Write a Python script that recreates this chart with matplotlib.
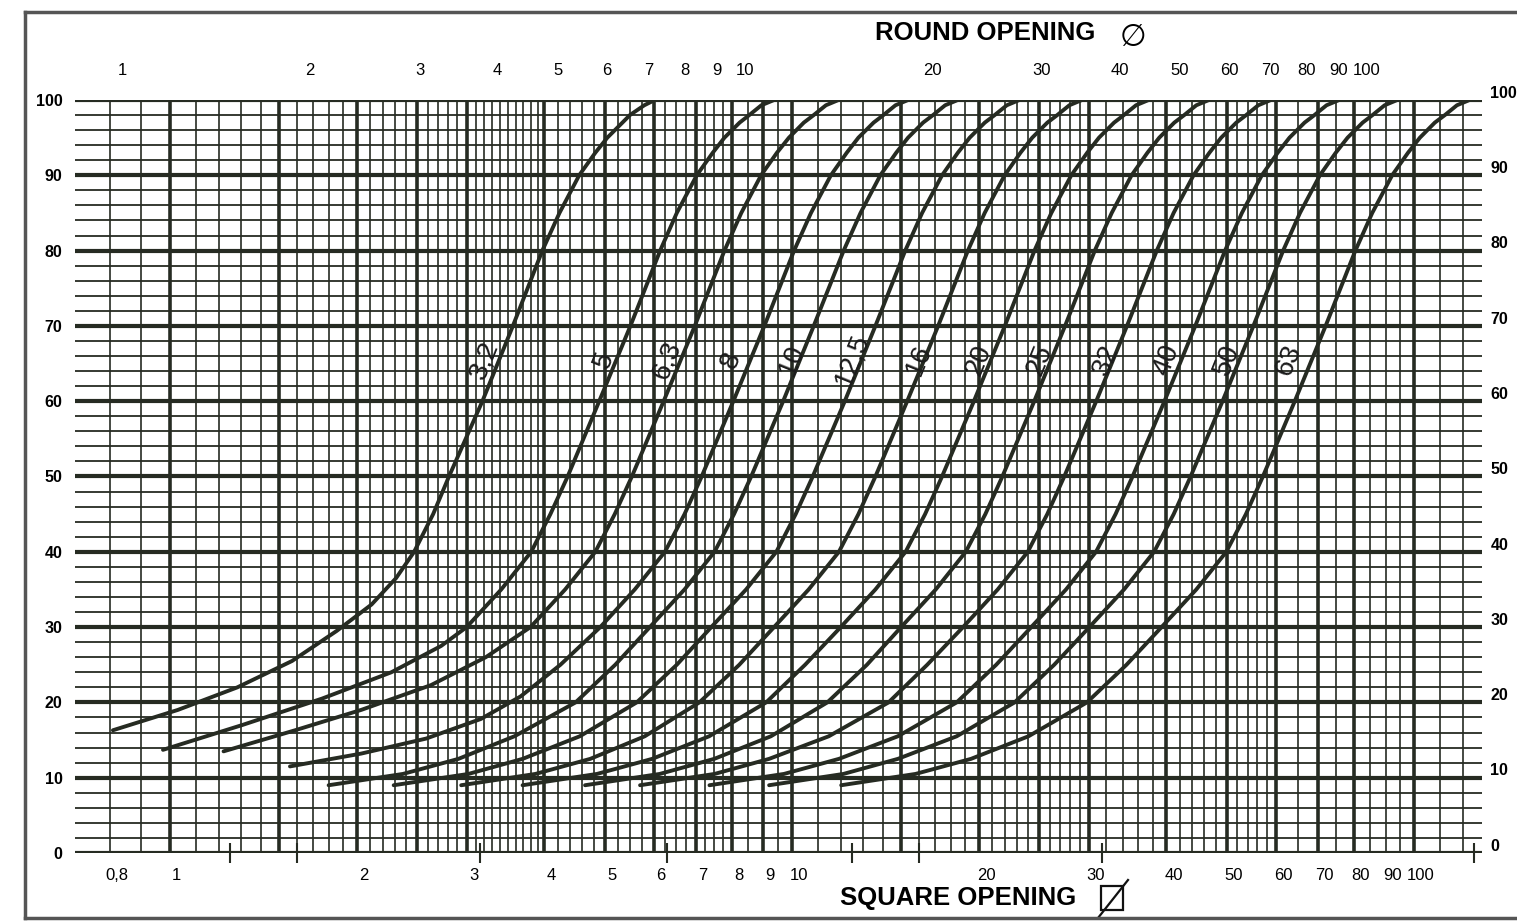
import numpy as np
import matplotlib.pyplot as plt
from matplotlib.lines import Line2D
from matplotlib.patches import Rectangle
from matplotlib.ticker import FixedLocator, NullLocator
from matplotlib.transforms import ScaledTranslation

plt.rcParams['font.family'] = ['Liberation Sans', 'DejaVu Sans']

# grading curves: square opening (mm) vs percent passing
curve_labels = ['3,2', '5', '6,3', '8', '10', '12,5', '16', '20', '25', '32', '40', '50', '63']
label_pos = [3.2, 5, 6.3, 8, 10, 12.5, 16, 20, 25, 32, 40, 50, 63]

sq_32 = [0.81, 1.03, 1.284, 1.572, 1.855, 2.11, 2.31, 2.47, 2.65, 2.81, 3.18, 3.56, 3.97, 4.23,
         4.55, 4.83, 5.05, 5.34, 5.49, 5.79, 6.02]
pp_32 = [16.3, 19, 22, 25.5, 29.5, 33, 36.5, 40, 45, 50, 60, 70, 80, 85,
         90, 93, 95, 97, 98, 99.3, 100]

# upper part of the curves (30 % and up)
pp_top = [30, 35, 40, 45, 50, 60, 70, 80, 85, 90, 93, 95, 97, 98, 99.3, 100]

sq_5 = [0.975, 1.308, 1.756, 2.27, 2.73,
        3.00, 3.41, 3.81, 4.09, 4.36, 4.90, 5.50, 6.14, 6.53, 7.03, 7.46, 7.79, 8.24, 8.54, 8.93, 9.36]
pp_5 = [13.7, 17, 20.5, 24, 27.5] + pp_top

sq_63 = [1.22, 1.59, 2.03, 2.63, 3.22,
         3.80, 4.32, 4.83, 5.19, 5.53, 6.22, 6.98, 7.79, 8.29, 8.92, 9.46, 9.89, 10.45, 10.84, 11.34, 11.88]
pp_63 = [13.5, 16.3, 19, 22.3, 26] + pp_top

sq_8 = [1.56, 2.03, 2.583, 3.162, 3.664, 4.245,
        4.92, 5.59, 6.25, 6.72, 7.16, 8.05, 9.03, 10.08, 10.73, 11.55, 12.25, 12.79, 13.53, 14.03, 14.67, 15.37]
pp_8 = [11.5, 13.2, 15.2, 17.8, 20.8, 25] + pp_top

# the bigger curves all start near 9 %
pp_big = [9, 10.5, 12.5, 15.5, 20, 25] + pp_top
sq_10 = [1.80, 2.37, 2.91, 3.58, 4.49, 5.20,
         5.91, 6.72, 7.51, 8.07, 8.60, 9.68, 10.84, 12.11, 12.89, 13.87, 14.71, 15.37, 16.25, 16.86, 17.63, 18.47]
sq_125 = [2.29, 3.02, 3.69, 4.56, 5.63, 6.53,
          7.42, 8.44, 9.44, 10.14, 10.80, 12.16, 13.62, 15.21, 16.19, 17.43, 18.48, 19.31, 20.42, 21.18, 22.15, 23.20]
sq_16 = [2.94, 3.87, 4.74, 5.80, 7.10, 8.23,
         9.36, 10.64, 11.90, 12.79, 13.62, 15.32, 17.18, 19.18, 20.41, 21.97, 23.30, 24.34, 25.74, 26.70, 27.92, 29.25]
sq_20 = [3.69, 4.86, 5.96, 7.36, 9.09, 10.5,
         11.98, 13.62, 15.23, 16.37, 17.43, 19.61, 21.99, 24.54, 26.12, 28.12, 29.83, 31.16, 32.95, 34.17, 35.73, 37.44]
sq_25 = [4.65, 6.13, 7.5, 9.25, 11.4, 13.2,
         14.98, 17.03, 19.03, 20.46, 21.79, 24.52, 27.48, 30.68, 32.66, 35.15, 37.28, 38.95, 41.18, 42.72, 44.67, 46.8]
sq_32b = [5.70, 7.51, 9.19, 11.46, 14.3, 16.5,
          18.84, 21.42, 23.94, 25.73, 27.40, 30.84, 34.56, 38.59, 41.07, 44.21, 46.89, 48.98, 51.80, 53.73, 56.18, 58.86]
sq_40 = [7.37, 9.71, 11.9, 14.8, 18.4, 21.3,
         24.25, 27.58, 30.82, 33.13, 35.28, 39.70, 44.50, 49.68, 52.88, 56.92, 60.37, 63.07, 66.69, 69.17, 72.33, 75.78]
sq_50 = [9.19, 12.1, 14.8, 18.4, 22.8, 26.4,
         30.07, 34.19, 38.21, 41.08, 43.74, 49.22, 55.18, 61.60, 65.56, 70.57, 74.85, 78.20, 82.68, 85.76, 89.68, 93.96]
sq_63b = [12.0, 15.8, 19.4, 24.0, 29.8, 34.5,
          39.28, 44.67, 49.92, 53.67, 57.15, 64.31, 72.09, 80.48, 85.66, 92.21, 97.80, 102.2, 108.0, 112.1, 117.2, 122.8]

curves = [(sq_32, pp_32), (sq_5, pp_5), (sq_63, pp_63), (sq_8, pp_8), (sq_10, pp_big),
          (sq_125, pp_big), (sq_16, pp_big), (sq_20, pp_big), (sq_25, pp_big),
          (sq_32b, pp_big), (sq_40, pp_big), (sq_50, pp_big), (sq_63b, pp_big)]

# axis ticks
square_ticks = [0.8, 1, 2, 3, 4, 5, 6, 7, 8, 9, 10, 20, 30, 40, 50, 60, 70, 80, 90, 100]
square_labels = ['0,8', '1', '2', '3', '4', '5', '6', '7', '8', '9', '10',
                 '20', '30', '40', '50', '60', '70', '80', '90', '100']
square_marks = [0.8, 1.25, 1.6, 3.15, 6.3, 12.5, 16, 31.5, 50, 90, 125]
round_ticks = [1, 2, 3, 4, 5, 6, 7, 8, 9, 10, 20, 30, 40, 50, 60, 70, 80, 90, 100]
round_ratio = 1.19

# paper grid
grid_thin = (list(np.round(np.arange(0.8, 4.01, 0.1), 2)) + [4.2, 4.4, 4.6, 4.8] +
             list(np.round(np.arange(5.25, 8.01, 0.25), 2)) + [8.5, 9.5] +
             list(range(11, 31)) + list(range(32, 61, 2)) + list(range(65, 101, 5)) + [110, 120])
grid_thick = [1, 1.5, 2, 2.5, 3, 4, 5, 6, 7, 8, 9, 10, 15, 20, 25, 30, 40, 50, 60, 70, 80, 100]

ink = '#262b22'
W, H = 1517, 923
fig = plt.figure(figsize=(W / 100, H / 100), dpi=100)
ax = fig.add_axes([75 / W, 1 - 853 / H, (1482 - 75) / W, (853 - 100) / H])
ax.set_xscale('log')
ax.set_xlim(0.704, 128.6)
ax.set_ylim(0, 100)
for s in ax.spines.values():
    s.set_visible(False)

for yv in range(0, 101, 2):
    ax.axhline(yv, color=ink, lw=3.0 if yv % 10 == 0 else 1.3, zorder=1)
ax.vlines(grid_thin, 0, 100, color=ink, lw=1.2, zorder=1)
ax.vlines(grid_thick, 0, 100, color=ink, lw=2.6, zorder=1)

for (xs, ys) in curves:
    ax.plot(xs, ys, color=ink, lw=2.8, solid_capstyle='round', solid_joinstyle='round', zorder=3)

for lab, xp in zip(curve_labels, label_pos):
    ax.text(xp, 65.5, lab, rotation=68, ha='center', va='center', fontsize=20,
            color='#1c1c1c', zorder=4)

# left / right percent labels
ax.set_yticks(range(0, 101, 10))
ax.tick_params(axis='y', length=0, pad=9, labelsize=11.5)
for lbl in ax.get_yticklabels():
    lbl.set_fontweight('bold')
for yv in range(0, 101, 10):
    ax.text(1.006, yv + 0.9, str(yv), transform=ax.get_yaxis_transform(),
            ha='left', va='center', fontsize=11.5, fontweight='bold')

# bottom: square opening
ax.xaxis.set_major_locator(FixedLocator(square_ticks))
ax.set_xticklabels(square_labels)
ax.xaxis.set_minor_locator(FixedLocator(square_marks))
ax.xaxis.set_minor_formatter(plt.NullFormatter())
ax.tick_params(axis='x', which='major', length=0, pad=11, labelsize=12)
ax.tick_params(axis='x', which='minor', length=14, width=1.5, direction='inout', color=ink)
shift = ScaledTranslation(5 / 72, 0, fig.dpi_scale_trans)
for lbl in ax.get_xticklabels():
    lbl.set_transform(lbl.get_transform() + shift)

# top: round opening
top = ax.secondary_xaxis('top', functions=(lambda s: s * round_ratio, lambda r: r / round_ratio))
top.xaxis.set_major_locator(FixedLocator(round_ticks))
top.xaxis.set_minor_locator(NullLocator())
top.set_xticklabels([str(r) for r in round_ticks])
top.tick_params(axis='x', length=0, pad=16, labelsize=12)
for s in top.spines.values():
    s.set_visible(False)

fig.text(985 / W, 1 - 33 / H, 'ROUND OPENING', ha='center', va='center',
         fontsize=18.5, fontweight='bold')
fig.text(1133 / W, 1 - 38 / H, '\u2205', ha='center', va='center', fontsize=22)
fig.text(958 / W, 1 - 898 / H, 'SQUARE OPENING', ha='center', va='center',
         fontsize=18.5, fontweight='bold')
# square-with-slash symbol
fig.add_artist(Rectangle((1101 / W, 1 - 910 / H), 22 / W, 24 / H, transform=fig.transFigure,
                         fill=False, lw=1.6, ec='#111111'))
fig.add_artist(Line2D([1098 / W, 1128 / W], [1 - 918 / H, 1 - 880 / H],
                      transform=fig.transFigure, lw=1.6, color='#111111'))

# page frame of the scan
fr = '#555555'
fig.add_artist(Line2D([25 / W, 25 / W], [1 - 12 / H, 1 - 918 / H], transform=fig.transFigure, lw=2.5, color=fr))
fig.add_artist(Line2D([25 / W, 1], [1 - 12 / H, 1 - 12 / H], transform=fig.transFigure, lw=2.5, color=fr))
fig.add_artist(Line2D([25 / W, 1], [1 - 918 / H, 1 - 918 / H], transform=fig.transFigure, lw=2.5, color=fr))

fig.savefig('out.png', dpi=100)
